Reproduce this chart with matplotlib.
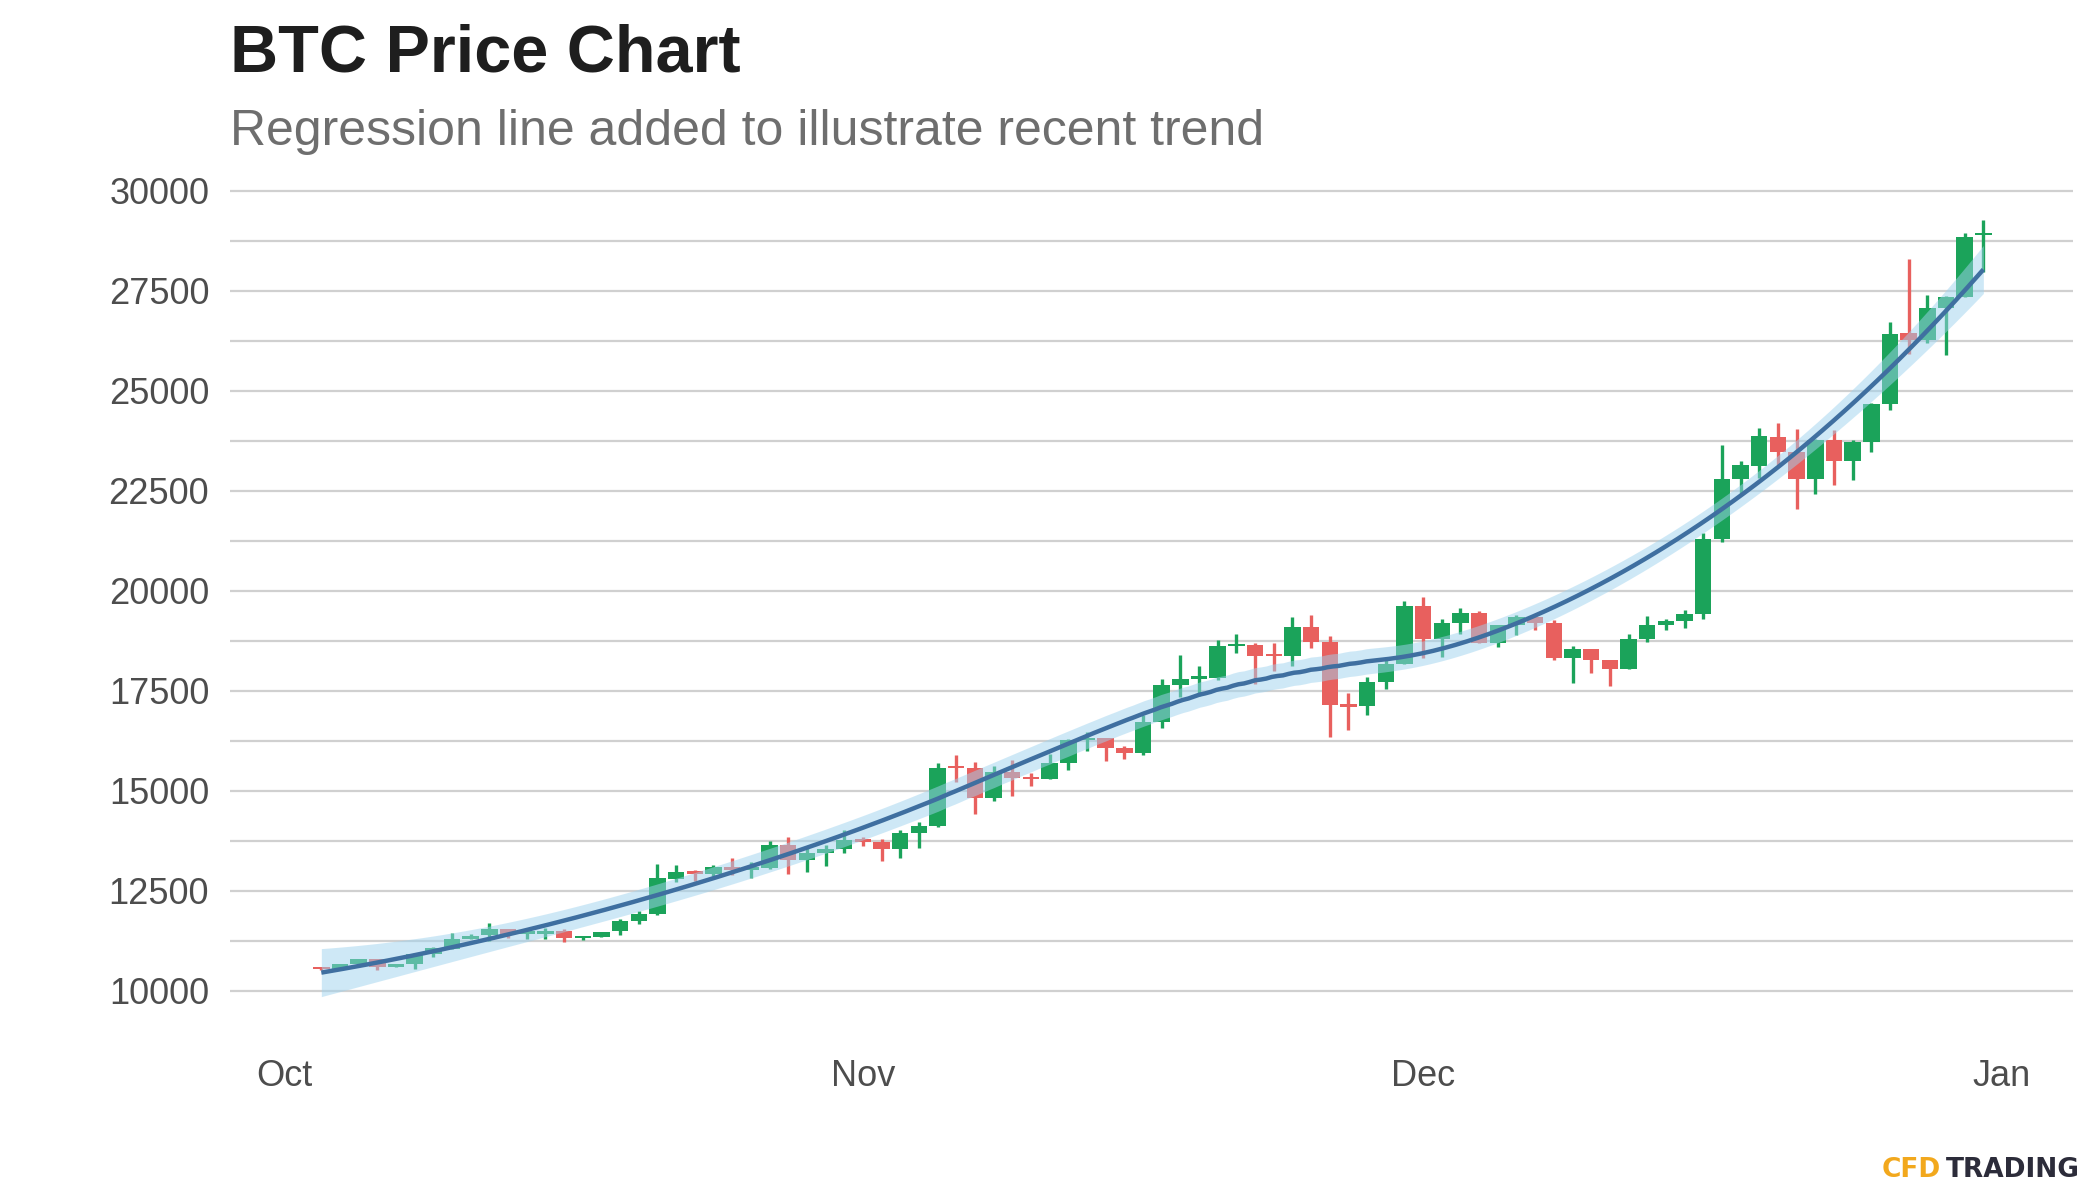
import numpy as np
import pandas as pd
import matplotlib
matplotlib.use("Agg")
import matplotlib.pyplot as plt
import matplotlib.dates as mdates

# daily BTC candles, Oct 3 - Dec 31
dates = pd.date_range("2020-10-03", "2020-12-31", freq="D")
opens = [
    10575, 10550, 10677, 10796, 10603, 10670, 10928, 11059, 11296, 11393,
    11549, 11429, 11427, 11503, 11322, 11356, 11495, 11746, 11913, 12802,
    12972, 12932, 13108, 13031, 13075, 13654, 13271, 13438, 13547, 13781,
    13737, 13550, 13950, 14134, 15580, 15566, 14834, 15480, 15332, 15291,
    15701, 16276, 16318, 16068, 15956, 16716, 17645, 17804, 17817, 18621,
    18642, 18370, 18365, 19104, 18730, 17154, 17113, 17720, 18178, 19634,
    18802, 19206, 19447, 18698, 19154, 19343, 19192, 18321, 18553, 18264,
    18051, 18807, 19144, 19247, 19419, 21308, 22807, 23133, 23862, 23474,
    22794, 23782, 23240, 23734, 24677, 26439, 26281, 27082, 27360, 28890,
]
highs = [
    10595, 10686, 10794, 10800, 10682, 10940, 11103, 11442, 11429, 11698,
    11549, 11540, 11570, 11540, 11386, 11483, 11799, 12000, 13185, 13162,
    13016, 13145, 13329, 13225, 13760, 13838, 13612, 13652, 14028, 13862,
    13808, 14028, 14219, 15706, 15903, 15737, 15637, 15785, 15450, 15916,
    16305, 16463, 16318, 16123, 16894, 17800, 18394, 18120, 18773, 18937,
    18689, 18711, 19348, 19391, 18866, 17445, 17854, 18284, 19749, 19846,
    19308, 19566, 19511, 19160, 19390, 19412, 19283, 18626, 18553, 18268,
    18920, 19382, 19305, 19525, 21459, 23643, 23239, 24086, 24210, 24060,
    23790, 24024, 23768, 24710, 26718, 28289, 27389, 27371, 28938, 29270,
]
lows = [
    10521, 10534, 10635, 10529, 10592, 10557, 10847, 11057, 11289, 11241,
    11321, 11308, 11304, 11223, 11285, 11348, 11408, 11681, 11901, 12717,
    12753, 12886, 12910, 12822, 13061, 12932, 12980, 13136, 13458, 13628,
    13243, 13325, 13580, 14102, 15227, 14423, 14744, 14866, 15125, 15290,
    15535, 15992, 15749, 15802, 15906, 16571, 17353, 17383, 17766, 18444,
    17671, 18001, 18129, 18581, 16351, 16526, 16911, 17559, 18178, 18322,
    18348, 18926, 18697, 18590, 18898, 19023, 18270, 17700, 17957, 17620,
    18046, 18734, 19013, 19080, 19298, 21235, 22400, 22826, 23148, 22050,
    22431, 22650, 22778, 23464, 24523, 25923, 26208, 25900, 27360, 27980,
]
closes = [
    10549, 10670, 10793, 10604, 10669, 10916, 11064, 11296, 11384, 11555,
    11426, 11430, 11495, 11322, 11358, 11483, 11742, 11916, 12824, 12966,
    12932, 13108, 13031, 13075, 13654, 13271, 13438, 13547, 13781, 13737,
    13550, 13950, 14134, 15580, 15566, 14834, 15480, 15332, 15291, 15701,
    16276, 16318, 16068, 15956, 16716, 17645, 17804, 17817, 18621, 18642,
    18370, 18364, 19107, 18732, 17151, 17108, 17717, 18177, 19626, 18803,
    19201, 19445, 18700, 19154, 19345, 19192, 18321, 18554, 18265, 18059,
    18804, 19142, 19247, 19417, 21311, 22805, 23138, 23870, 23477, 22803,
    23783, 23241, 23736, 24665, 26437, 26272, 27085, 27362, 28841, 28930,
]

tick_dates = ["2020-10-01", "2020-11-01", "2020-12-01", "2021-01-01"]
tick_labels = ["Oct", "Nov", "Dec", "Jan"]
y_major = [10000, 12500, 15000, 17500, 20000, 22500, 25000, 27500, 30000]
y_minor = [11250, 13750, 16250, 18750, 21250, 23750, 26250, 28750]

title = "BTC Price Chart"
subtitle = "Regression line added to illustrate recent trend"

green = "#1ba35a"
red = "#e8605e"
line_col = "#3f6fa0"
band_col = "#9fd3ee"

plt.rcParams["font.family"] = ["Liberation Sans", "DejaVu Sans"]


def loess_matrix(x, x_eval, span=0.75):
    # local quadratic regression with tricube weights (like R's loess)
    n = len(x)
    q = int(np.floor(span * n))
    X = np.column_stack([np.ones(n), x, x ** 2])
    rows = []
    for x0 in x_eval:
        d = np.abs(x - x0)
        h = np.sort(d)[q - 1]
        w = np.clip(1 - (d / h) ** 3, 0, None) ** 3
        Xw = X * w[:, None]
        coef = np.linalg.solve(X.T @ Xw, Xw.T)
        rows.append(np.array([1.0, x0, x0 ** 2]) @ coef)
    return np.array(rows)


o = np.array(opens, float)
h = np.array(highs, float)
l = np.array(lows, float)
c = np.array(closes, float)
xd = mdates.date2num(dates)

# smoother on closing price
xs = (xd - xd.mean()) / (xd.max() - xd.min())
L_data = loess_matrix(xs, xs)
resid = c - L_data @ c
dof = len(c) - np.trace(L_data)
sigma = np.sqrt(np.sum(resid ** 2) / dof)
xe = np.linspace(xs.min(), xs.max(), 300)
L_eval = loess_matrix(xs, xe)
fit = L_eval @ c
se = sigma * np.sqrt(np.sum(L_eval ** 2, axis=1))
xe_d = xe * (xd.max() - xd.min()) + xd.mean()

fig = plt.figure(figsize=(21, 12), dpi=100)
ax = fig.add_axes([230 / 2100, 1 - 1031 / 1200, (2073 - 230) / 2100, 852 / 1200])

up = c >= o
cols = np.where(up, green, red)
ax.vlines(xd, l, h, colors=cols, lw=2.4, zorder=2)
body_lo = np.minimum(o, c)
body_h = np.maximum(np.abs(c - o), 60)
ax.bar(xd, body_h, bottom=body_lo, width=0.88, color=cols, lw=0, zorder=2)

ax.fill_between(xe_d, fit - 1.99 * se, fit + 1.99 * se, color=band_col,
                alpha=0.5, lw=0, zorder=3)
ax.plot(xe_d, fit, color=line_col, lw=3.2, zorder=4, solid_capstyle="butt")

x0 = mdates.date2num(pd.Timestamp("2020-10-01"))
x1 = mdates.date2num(pd.Timestamp("2021-01-01"))
ax.set_xlim(x0 - 2.89, x1 + 3.8)
ax.set_ylim(9000, 30300)
ax.set_xticks(mdates.date2num(pd.to_datetime(tick_dates)))
ax.set_xticklabels(tick_labels)
ax.set_yticks(y_major)
ax.set_yticks(y_minor, minor=True)
ax.set_yticklabels([str(v) for v in y_major])
ax.grid(axis="y", which="both", color="#d0d0d0", lw=1.6, zorder=0)
ax.set_axisbelow(True)
for s in ax.spines.values():
    s.set_visible(False)
ax.tick_params(axis="both", which="both", length=0, labelsize=26,
               labelcolor="#4d4d4d")
ax.tick_params(axis="y", pad=15)
ax.tick_params(axis="x", pad=20)

fig.text(230 / 2100, 1 - 72 / 1200, title, fontsize=48, fontweight="bold",
         color="#1e1e1e", va="baseline")
fig.text(230 / 2100, 1 - 145 / 1200, subtitle, fontsize=36, color="#6e6e6e",
         va="baseline")

fig.text(1882 / 2100, 1 - 1177 / 1200, "CFD", fontsize=19, fontweight="bold",
         color="#f2a81d", va="baseline", family="DejaVu Sans")
fig.text(1946 / 2100, 1 - 1177 / 1200, "TRADING", fontsize=19,
         fontweight="bold", color="#2c2c3a", va="baseline",
         family="DejaVu Sans")

fig.savefig("out.png", dpi=100)
